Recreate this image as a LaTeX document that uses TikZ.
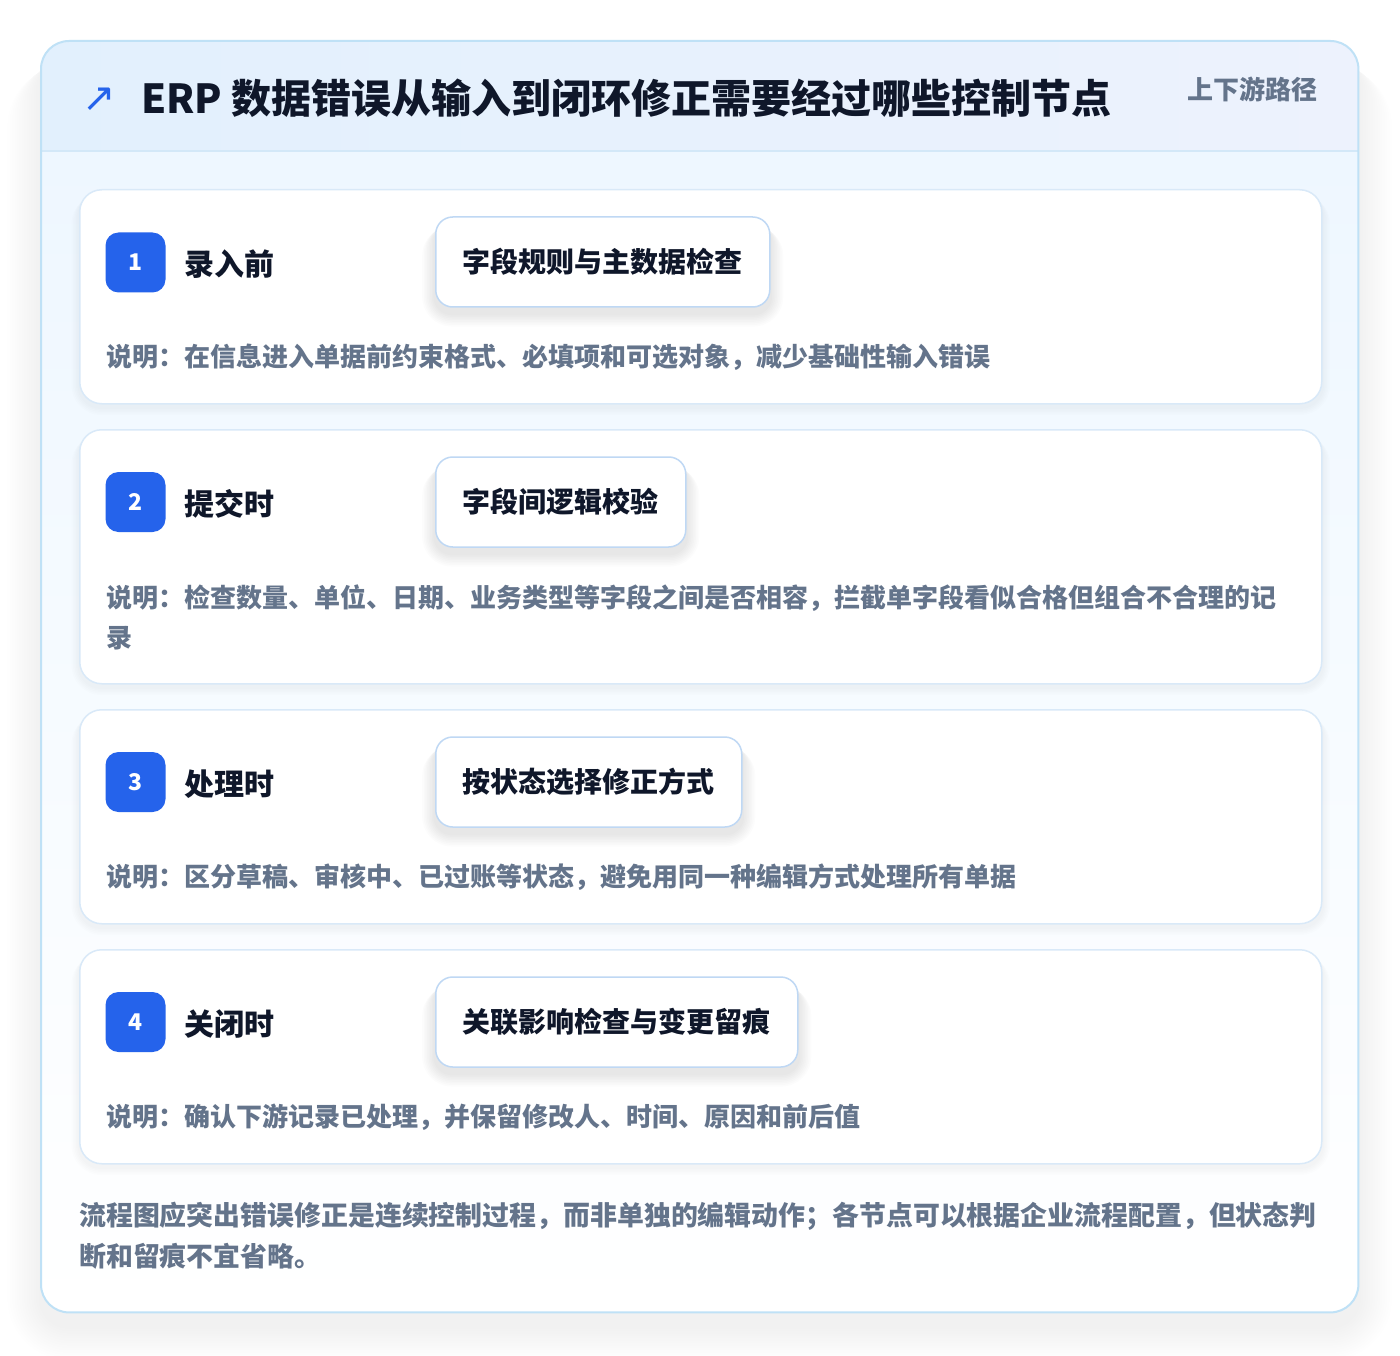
\documentclass[tikz,border=0pt]{standalone}
\usepackage{fontspec}
\setmainfont{Noto Sans CJK SC}
\newfontfamily\symfont{DejaVu Sans}
\usetikzlibrary{calc}
\pgfdeclarelayer{framesh}
\pgfdeclarelayer{base}
\pgfdeclarelayer{cardsh}
\pgfdeclarelayer{pillsh}
\pgfdeclarelayer{top}
\pgfsetlayers{framesh,base,cardsh,main,pillsh,top}
\definecolor{pagebg}{HTML}{FFFFFF}
\definecolor{outerline}{HTML}{BFE1F6}
\definecolor{headl}{HTML}{E2F0FD}
\definecolor{headr}{HTML}{EDF2FD}
\definecolor{headline}{HTML}{D3E8F8}
\definecolor{bodytop}{HTML}{EEF7FF}
\definecolor{cardline}{HTML}{D9E9F8}
\definecolor{pillline}{HTML}{BFD8F4}
\definecolor{badgeblue}{HTML}{2563EB}
\definecolor{titleink}{HTML}{0F172A}
\definecolor{grayink}{HTML}{64748B}
\definecolor{shadowink}{HTML}{1E293B}
\tikzset{
  framebox/.style={fill=white, rounded corners=28pt, minimum width=1317pt, minimum height=1271pt,
    inner sep=0pt, anchor=north west},
  card/.style={draw=cardline, line width=1.5pt, fill=white, rounded corners=22pt,
    minimum width=1242pt, inner sep=0pt, anchor=north west},
  badge/.style={fill=badgeblue, rounded corners=13pt, minimum width=60pt, minimum height=60pt,
    inner sep=0pt, text=white, font=\bfseries\fontsize{23}{23}\selectfont},
  steplabel/.style={anchor=west, inner sep=0pt, text=titleink, font=\bfseries\fontsize{30}{30}\selectfont},
  pill/.style={draw=pillline, line width=1.5pt, fill=white, rounded corners=17pt, anchor=west,
    minimum height=90pt, inner xsep=27pt, inner ysep=0pt, text=titleink,
    font=\bfseries\fontsize{28}{28}\selectfont},
  desc/.style={anchor=west, inner sep=0pt, align=left, text=grayink,
    font=\bfseries\fontsize{26}{40}\selectfont},
}
% soft shadow: node, layers, step, y offset, opacity, corner radius
\newcommand\softshadow[6]{%
  \foreach \i in {1,...,#2}{%
    \fill[shadowink, opacity=#5, rounded corners=#6+\i*#3]
      ($(#1.north west)+(-\i*#3,#4+\i*#3*0.3)$) rectangle ($(#1.south east)+(\i*#3,#4+\i*#3)$);
  }%
}
\begin{document}
\begin{tikzpicture}[x=1pt,y=-1pt]
\useasboundingbox (0,0) rectangle (1400,1356);

\begin{pgfonlayer}{base}
\node[framebox] (frame) at (41,41) {};
\begin{scope}
  \clip[rounded corners=28pt] (41,41) rectangle (1358,1312);
  \shade[top color=bodytop, bottom color=white] (41,151) rectangle (1358,1312);
  \shade[left color=headl, right color=headr] (41,41) rectangle (1358,151);
  \draw[headline, line width=1.5pt] (41,151) -- (1358,151);
\end{scope}
\draw[outerline, line width=2pt, rounded corners=28pt] (frame.north west) rectangle (frame.south east);
\end{pgfonlayer}
\begin{pgfonlayer}{framesh}
\fill[pagebg] (0,0) rectangle (1400,1356);
\softshadow{frame}{14}{2.4}{14}{0.005}{28}
\end{pgfonlayer}

% header
\node[anchor=west, inner sep=0pt, text=badgeblue, font=\symfont\fontsize{40}{40}\selectfont] (arrow) at (82,100) {↗};
\node[anchor=west, inner sep=0pt, text=titleink, font=\bfseries\fontsize{40}{40}\selectfont] (title) at (141,98) {ERP 数据错误从输入到闭环修正需要经过哪些控制节点};
\node[anchor=east, inner sep=0pt, text=grayink, font=\bfseries\fontsize{26}{26}\selectfont] (tag) at (1318,89) {上下游路径};

% cards
\node[card, minimum height=214pt] (c1) at (79,189) {};
\node[card, minimum height=254pt] (c2) at (79,429) {};
\node[card, minimum height=214pt] (c3) at (79,709) {};
\node[card, minimum height=214pt] (c4) at (79,949) {};
\begin{pgfonlayer}{cardsh}
\foreach \c in {c1,c2,c3,c4}{\softshadow{\c}{5}{1.5}{3}{0.007}{22}}
\end{pgfonlayer}

\begin{pgfonlayer}{top}
% card 1
\node[badge] (b1) at (135.5,262.5) {1};
\node[steplabel] (l1) at (184,264) {录入前};
\node[pill] (p1) at (435,262) {字段规则与主数据检查};
\node[desc] (d1) at (106,357) {说明：在信息进入单据前约束格式、必填项和可选对象，减少基础性输入错误};
% card 2
\node[badge] (b2) at (135.5,502) {2};
\node[steplabel] (l2) at (184,504) {提交时};
\node[pill] (p2) at (435,502) {字段间逻辑校验};
\node[desc] (d2) at (106,617) {说明：检查数量、单位、日期、业务类型等字段之间是否相容，拦截单字段看似合格但组合不合理的记\\录};
% card 3
\node[badge] (b3) at (135.5,782) {3};
\node[steplabel] (l3) at (184,784) {处理时};
\node[pill] (p3) at (435,782) {按状态选择修正方式};
\node[desc] (d3) at (106,877) {说明：区分草稿、审核中、已过账等状态，避免用同一种编辑方式处理所有单据};
% card 4
\node[badge] (b4) at (135.5,1022) {4};
\node[steplabel] (l4) at (184,1024) {关闭时};
\node[pill] (p4) at (435,1022) {关联影响检查与变更留痕};
\node[desc] (d4) at (106,1117) {说明：确认下游记录已处理，并保留修改人、时间、原因和前后值};
% footer
\node[desc, font=\bfseries\fontsize{26.9}{41}\selectfont] (foot) at (79,1235.5) {流程图应突出错误修正是连续控制过程，而非单独的编辑动作；各节点可以根据企业流程配置，但状态判\\断和留痕不宜省略。};
\end{pgfonlayer}

\begin{pgfonlayer}{pillsh}
\foreach \p in {p1,p2,p3,p4}{\softshadow{\p}{8}{1.6}{6}{0.011}{17}}
\end{pgfonlayer}
\end{tikzpicture}
\end{document}
